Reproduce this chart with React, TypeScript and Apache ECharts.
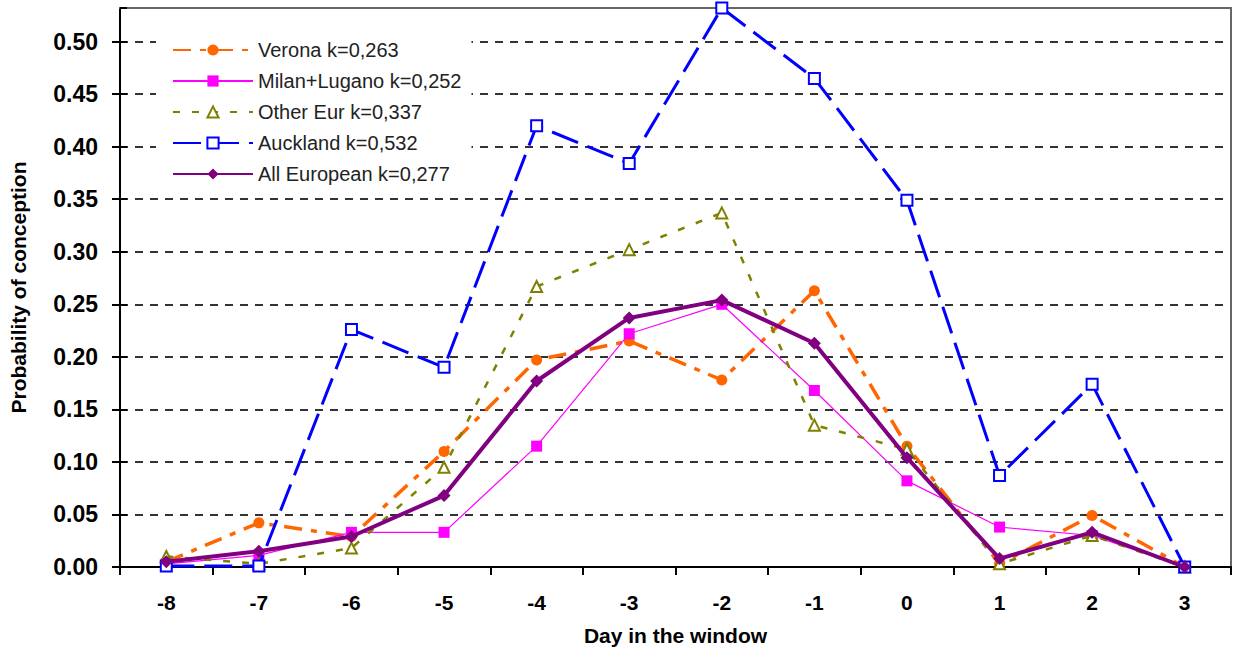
import React, { useEffect, useRef } from "react";
import * as echarts from "echarts";

const days = ["-8", "-7", "-6", "-5", "-4", "-3", "-2", "-1", "0", "1", "2", "3"];
const verona = [0.005, 0.042, 0.029, 0.11, 0.197, 0.215, 0.178, 0.263, 0.115, 0.003, 0.049, 0.0];
const milanLugano = [0.003, 0.011, 0.033, 0.033, 0.115, 0.222, 0.25, 0.168, 0.082, 0.038, 0.03, 0.0];
const otherEur = [0.01, 0.003, 0.018, 0.095, 0.267, 0.302, 0.337, 0.135, 0.112, 0.003, 0.03, 0.0];
const auckland = [0.001, 0.001, 0.226, 0.19, 0.42, 0.384, 0.532, 0.465, 0.349, 0.087, 0.174, 0.0];
const allEuropean = [0.005, 0.015, 0.029, 0.068, 0.177, 0.237, 0.254, 0.213, 0.104, 0.008, 0.033, 0.0];
const seriesNames = [
  "Verona k=0,263",
  "Milan+Lugano k=0,252",
  "Other Eur k=0,337",
  "Auckland k=0,532",
  "All European k=0,277",
];

const FONT = "'Liberation Sans', Arial, sans-serif";

export default function App() {
  const ref = useRef<HTMLDivElement>(null);
  useEffect(() => {
    if (!ref.current) return;
    const chart = echarts.init(ref.current, null, { renderer: "svg" });
    chart.setOption({
      animation: false,
      backgroundColor: "#fff",
      textStyle: { fontFamily: FONT },
      grid: { left: 117, right: 3, top: 8, bottom: 84, containLabel: false },
      legend: {
        orient: "vertical",
        left: 156,
        top: 30,
        padding: [10, 10, 10, 16],
        backgroundColor: "#fff",
        itemWidth: 80,
        itemHeight: 14,
        itemGap: 11,
        z: 10,
        textStyle: { fontFamily: FONT, fontSize: 20, color: "#222", lineHeight: 20 },
        data: seriesNames,
      },
      xAxis: [
        {
          type: "category",
          data: days,
          boundaryGap: true,
          name: "Day in the window",
          nameLocation: "middle",
          nameGap: 58,
          nameTextStyle: { fontFamily: FONT, fontSize: 21, fontWeight: "bold", color: "#000" },
          axisLine: { onZero: false, lineStyle: { color: "#000", width: 2 } },
          axisTick: { show: true, alignWithLabel: false, length: 8, lineStyle: { color: "#000", width: 2 } },
          axisLabel: { fontFamily: FONT, fontSize: 21, fontWeight: "bold", color: "#000", margin: 25 },
          splitLine: { show: false },
          z: 3,
        },
        {
          type: "category",
          data: days,
          position: "top",
          axisLine: { onZero: false, lineStyle: { color: "#666", width: 2 } },
          axisTick: { show: false },
          axisLabel: { show: false },
          splitLine: { show: false },
          z: 3,
        },
      ],
      yAxis: [
        {
          type: "value",
          min: 0,
          max: 0.532,
          interval: 0.05,
          name: "Probability of conception",
          nameLocation: "middle",
          nameGap: 91,
          nameTextStyle: { fontFamily: FONT, fontSize: 21, fontWeight: "bold", color: "#000" },
          axisLine: { show: true, onZero: false, lineStyle: { color: "#000", width: 2 } },
          axisTick: { show: true, length: 8, lineStyle: { color: "#000", width: 2 } },
          axisLabel: {
            fontFamily: FONT,
            fontSize: 23,
            fontWeight: "bold",
            color: "#000",
            margin: 22,
            showMaxLabel: false,
            formatter: (v: number) => v.toFixed(2),
          },
          splitLine: {
            show: true,
            showMinLine: false,
            showMaxLine: false,
            lineStyle: { color: "#333", width: 2, type: [8, 7] },
          },
          z: 1,
        },
        {
          type: "value",
          min: 0,
          max: 0.532,
          interval: 0.05,
          position: "right",
          axisLine: { show: true, onZero: false, lineStyle: { color: "#666", width: 2 } },
          axisTick: { show: false },
          axisLabel: { show: false },
          splitLine: { show: false },
          z: 3,
        },
        {
          type: "value",
          min: 0,
          max: 0.532,
          interval: 0.05,
          position: "left",
          axisLine: { show: false, onZero: false },
          axisTick: { show: true, inside: true, length: 7, lineStyle: { color: "#000", width: 2 } },
          axisLabel: { show: false },
          splitLine: { show: false },
          z: 3,
        },
      ],
      series: [
        {
          name: seriesNames[0],
          type: "line",
          data: verona,
          symbol: "circle",
          symbolSize: 11,
          itemStyle: { color: "#FF6600" },
          lineStyle: { color: "#FF6600", width: 3.5, type: [18, 9, 6, 9] },
          z: 2,
        },
        {
          name: seriesNames[1],
          type: "line",
          data: milanLugano,
          symbol: "rect",
          symbolSize: 11,
          itemStyle: { color: "#FF00FF" },
          lineStyle: { color: "#FF00FF", width: 1.2, type: "solid" },
          z: 3,
        },
        {
          name: seriesNames[2],
          type: "line",
          data: otherEur,
          symbol: "emptyTriangle",
          symbolSize: 11,
          itemStyle: { color: "#808000", borderWidth: 1.5 },
          lineStyle: { color: "#808000", width: 2.5, type: [7, 12] },
          z: 4,
        },
        {
          name: seriesNames[3],
          type: "line",
          data: auckland,
          symbol: "emptyRect",
          symbolSize: 11,
          itemStyle: { color: "#0000FF", borderWidth: 2 },
          lineStyle: { color: "#0000FF", width: 3, type: [28, 10] },
          z: 5,
        },
        {
          name: seriesNames[4],
          type: "line",
          data: allEuropean,
          symbol: "diamond",
          symbolSize: 13,
          itemStyle: { color: "#800080" },
          lineStyle: { color: "#800080", width: 4, type: "solid" },
          z: 6,
        },
      ],
    });
    return () => chart.dispose();
  }, []);
  return (
    <div
      ref={ref}
      style={{ position: "fixed", left: 0, top: 0, width: 1234, height: 651 }}
    />
  );
}
